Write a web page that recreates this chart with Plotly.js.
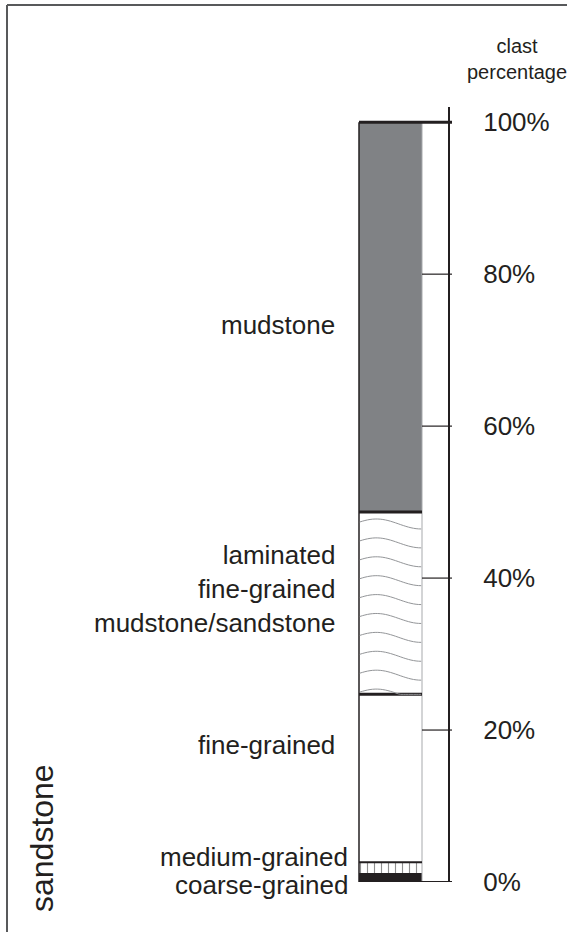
<!DOCTYPE html>
<html><head><meta charset="utf-8">
<script src="https://cdn.plot.ly/plotly-3.0.1.min.js"></script>
<style>html,body{margin:0;padding:0;background:#fff}</style>
</head><body><div id="chart" style="width:567px;height:932px"></div>
<script>
// ---- data ----
const layerNames = ['coarse-grained', 'medium-grained', 'fine-grained', 'laminated fine-grained mudstone/sandstone', 'mudstone'];
const layerTops = [1.2, 2.6, 24.7, 48.7, 100];   // cumulative clast percentage at top of each layer
const tickValues = [0, 20, 40, 60, 80, 100];
const tickLabels = ['0%', '20%', '40%', '60%', '80%', '100%'];

// ---- layout helpers ----
const W = 567, H = 932, MT = 107, MB = 50;
const PH = H - MT - MB;            // plot height px
const YMAX = 102;
const pxPer = PH / YMAX;
const y0px = H - MB;               // pixel of 0 %
const pp = px => (y0px - px) / PH;         // pixel -> paper y
const COLX = 390.5, COLW = 63, COLL = COLX - COLW / 2, COLR = COLX + COLW / 2;
const AXX = 449;
const DARK = '#231f20';
const FONT = 'Liberation Sans, Arial, sans-serif';

const bases = [0].concat(layerTops.slice(0, -1));
const fills = ['#231f20', '#ffffff', '#ffffff', '#ffffff', '#808285'];

const traces = layerNames.map((n, i) => {
  const t = {
    type: 'bar', name: n, x: [COLX], y: [layerTops[i] - bases[i]], base: [bases[i]],
    width: [COLW], marker: {color: fills[i], line: {width: 0}},
    hoverinfo: 'name', showlegend: false
  };
  if (i === 1) t.marker.pattern = {shape: '|', fgcolor: '#8f8f8f', bgcolor: '#ffffff', size: 7, solidity: 0.16};
  return t;
});

const shapes = [];
// column edges
shapes.push({type: 'line', xref: 'x', yref: 'y', x0: COLL, x1: COLL, y0: 0, y1: 100, line: {color: DARK, width: 1.5}});
shapes.push({type: 'line', xref: 'x', yref: 'y', x0: COLR, x1: COLR, y0: 0, y1: 100, line: {color: '#a7a9ac', width: 1}});
// layer boundaries
layerTops.slice(0, -1).forEach((v, i) => {
  shapes.push({type: 'line', xref: 'x', yref: 'y', x0: COLL, x1: COLR, y0: v, y1: v,
    line: {color: DARK, width: i >= 2 ? 3 : (i === 1 ? 2 : 0)}});
});
// tick marks
tickValues.forEach(v => {
  const edge = (v === 0 || v === 100);
  shapes.push({type: 'line', xref: 'x', yref: 'y', x0: edge ? COLL : COLR, x1: AXX + 3, y0: v, y1: v,
    line: {color: DARK, width: v === 100 ? 3 : (v === 0 ? 2 : 1.2)}});
});
// laminations (wavy texture)
const lamBot = layerTops[2], lamTop = layerTops[3];
const nWaves = 10, firstPk = 7, spacing = 18.9;
for (let k = 0; k < nWaves; k++) {
  let d = '';
  for (let j = 0; j <= 24; j++) {
    const t = j / 24;
    const off = 5 - 5 * Math.cos(Math.PI * (t - 0.27) / 0.73);
    let yv = lamTop - (firstPk + k * spacing + off) / pxPer;
    if (yv < lamBot) yv = lamBot;
    const xv = COLL + 0.8 + t * (COLW - 1.6);
    d += (j === 0 ? 'M' : 'L') + xv.toFixed(2) + ',' + yv.toFixed(3);
  }
  shapes.push({type: 'path', xref: 'x', yref: 'y', path: d, line: {color: '#939598', width: 1}});
}
// outer frame (top and left)
shapes.push({type: 'line', xref: 'paper', yref: 'paper', x0: 7 / W, x1: 1.01, y0: pp(5), y1: pp(5), line: {color: '#58595b', width: 2}});
shapes.push({type: 'line', xref: 'paper', yref: 'paper', x0: 7 / W, x1: 7 / W, y0: pp(5), y1: pp(940), line: {color: '#58595b', width: 2}});

const LS = 26;
const lf = {family: FONT, size: LS, color: DARK};
const ann = (text, xpx, ypx, extra) => Object.assign({text: text, x: xpx / W, y: pp(ypx), xref: 'paper', yref: 'paper',
  showarrow: false, xanchor: 'right', yanchor: 'middle', align: 'right', font: lf}, extra || {});
const annotations = [
  ann('clast<br>percentage', 517, 59, {xanchor: 'center', align: 'center', font: {family: FONT, size: 20, color: DARK}}),
  ann('mudstone', 337, 325),
  ann('laminated<br>fine-grained<br>mudstone/sandstone', 337, 589),
  ann('fine-grained', 337, 745),
  ann('medium-grained', 350, 857),
  ann('coarse-grained', 350, 885),
  ann('sandstone', 42, 838, {xanchor: 'center', textangle: -90, font: {family: FONT, size: 32, color: DARK}})
];

const layout = {
  width: W, height: H, margin: {l: 0, r: 0, t: MT, b: MB, pad: 0},
  paper_bgcolor: '#ffffff', plot_bgcolor: 'rgba(0,0,0,0)',
  barmode: 'overlay', showlegend: false,
  xaxis: {range: [0, W], visible: false, fixedrange: true},
  yaxis: {range: [0, YMAX], side: 'right', anchor: 'free', position: AXX / W,
    showline: true, linecolor: DARK, linewidth: 2, showgrid: false, zeroline: false,
    ticks: '', tickvals: tickValues, ticktext: tickLabels, ticklabelstandoff: 28,
    tickfont: {family: FONT, size: 26, color: DARK}, fixedrange: true},
  shapes: shapes, annotations: annotations
};
Plotly.newPlot('chart', traces, layout, {displayModeBar: false, staticPlot: true});
</script></body></html>
